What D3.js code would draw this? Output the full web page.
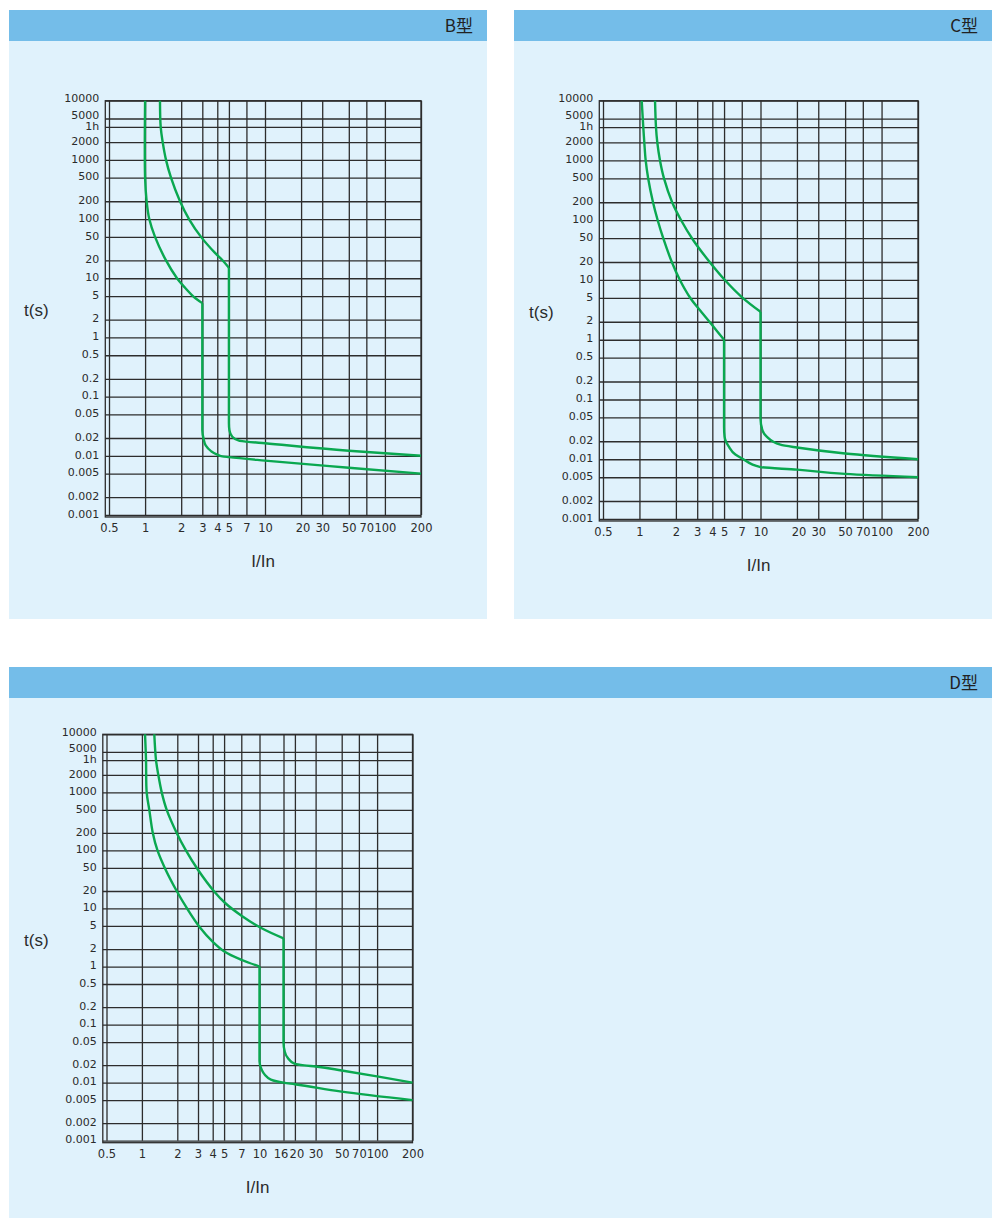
<!DOCTYPE html>
<html>
<head>
<meta charset="utf-8">
<script src="https://cdnjs.cloudflare.com/ajax/libs/d3/7.8.5/d3.min.js"></script>
<style>
body { margin: 0; background: #fff; }
svg text { font-family: "Liberation Sans", Arial, sans-serif; fill: #2b2b2b; }
.tick text { font-family: "DejaVu Sans", sans-serif; font-size: 11px; }
.x-axis .tick text { font-size: 11.5px; }
.tick line { stroke: #2d2d2d; stroke-width: 1.3; }
.title { font-family: "Noto Sans CJK SC", sans-serif; font-size: 17px; fill: #222; }
.axis-name { font-size: 17px; }
</style>
</head>
<body>
<svg id="chart" width="1006" height="1218"></svg>
<script>
// tick values (I/In and seconds)
var xTicks = [0.5, 1, 2, 3, 4, 5, 7, 10, 20, 30, 50, 70, 100, 200];
var xTicksD = [0.5, 1, 2, 3, 4, 5, 7, 10, 16, 20, 30, 50, 70, 100, 200];
var yTicks = [10000, 5000, 3600, 2000, 1000, 500, 200, 100, 50, 20, 10, 5, 2, 1,
              0.5, 0.2, 0.1, 0.05, 0.02, 0.01, 0.005, 0.002, 0.001];
var yLabels = ['10000', '5000', '1h', '2000', '1000', '500', '200', '100', '50', '20', '10', '5', '2', '1',
               '0.5', '0.2', '0.1', '0.05', '0.02', '0.01', '0.005', '0.002', '0.001'];

// curves as [I/In, t(s)] : thermal part, then magnetic part + tail
var bThermalLow = [[1, 10000], [1, 500], [1.03, 200], [1.084, 100], [1.21, 50], [1.494, 20], [1.845, 10],
                   [2.12, 7.15], [2.534, 4.9], [3, 3.8]];
var bMagLow = [[3, 3.8], [3, 0.027], [3.08, 0.019], [3.2, 0.015], [3.55, 0.012], [4, 0.0105],
               [4.4, 0.0098], [5, 0.0095], [10, 0.0083], [50, 0.0063], [200, 0.005]];
var bThermalHigh = [[1.331, 10000], [1.349, 3600], [1.402, 2000], [1.494, 1000], [1.644, 500], [1.954, 200],
                    [2.323, 100], [2.926, 50], [3.83, 26.8], [4.44, 20], [5, 15]];
var bMagHigh = [[5, 15], [5, 0.036], [5.05, 0.027], [5.33, 0.021], [6.07, 0.018], [7, 0.0174],
                [10, 0.0163], [50, 0.0122], [200, 0.01]];

var cThermalLow = [[1.044, 10000], [1.076, 3600], [1.097, 2000], [1.126, 1000], [1.181, 500], [1.294, 200],
                   [1.415, 100], [1.572, 50], [1.851, 20], [2.159, 10], [2.631, 5], [3.164, 3.11],
                   [4.075, 1.667], [5, 1]];
var cMagLow = [[5, 1], [5, 0.035], [5.05, 0.024], [5.46, 0.0164], [6.2, 0.012], [7.1, 0.0102],
               [10, 0.0074], [20, 0.0067], [50, 0.0057], [200, 0.005]];
var cThermalHigh = [[1.345, 10000], [1.37, 3600], [1.404, 2000], [1.478, 1000], [1.595, 500], [1.862, 200],
                    [2.209, 100], [2.775, 46.7], [3.814, 19.8], [5.073, 10], [7.047, 5.13], [10, 2.94]];
var cMagHigh = [[10, 2.94], [10, 0.048], [10.4, 0.03], [11.2, 0.0241], [14.6, 0.0175], [20, 0.0157],
                [50, 0.0125], [200, 0.01]];

var dThermalLow = [[1.063, 10000], [1.084, 3600], [1.098, 1000], [1.156, 500], [1.238, 200], [1.357, 100],
                   [1.566, 50], [1.977, 20], [2.42, 10], [3.08, 4.86], [4.05, 2.61], [5.06, 1.8],
                   [7.1, 1.295], [10, 1]];
var dMagLow = [[10, 1], [10, 0.0233], [10.4, 0.017], [11.1, 0.0137], [12.5, 0.0113], [16, 0.01],
               [20, 0.0094], [50, 0.007], [200, 0.005]];
var dThermalHigh = [[1.275, 10000], [1.318, 3600], [1.379, 2000], [1.474, 1000], [1.625, 500], [1.977, 200],
                    [2.366, 100], [3.006, 46], [4.135, 19.45], [5.13, 12.3], [7.03, 7.51], [10.44, 4.56],
                    [16, 3.06]];
var dMagHigh = [[16, 3.06], [16, 0.05], [16.4, 0.034], [17.3, 0.027], [20, 0.021], [24, 0.0198],
                [30, 0.019], [50, 0.0162], [100, 0.0128], [200, 0.01]];

var panels = [
  {title: 'B型', left: 9, top: 10, width: 478, height: 609,
   x0: 109, x1: 421, y0: 100.7, y1: 515, xt: xTicks,
   thermal: [bThermalLow, bThermalHigh], magnetic: [bMagLow, bMagHigh]},
  {title: 'C型', left: 514, top: 10, width: 478, height: 609,
   x0: 603, x1: 918, y0: 100.7, y1: 519, xt: xTicks,
   thermal: [cThermalLow, cThermalHigh], magnetic: [cMagLow, cMagHigh]},
  {title: 'D型', left: 9, top: 667, width: 983, height: 551,
   x0: 106.5, x1: 412.5, y0: 734.3, y1: 1140.7, xt: xTicksD,
   thermal: [dThermalLow, dThermalHigh], magnetic: [dMagLow, dMagHigh]}
];

var svg = d3.select('#chart');

panels.forEach(function(p) {
  var g = svg.append('g');

  g.append('rect')
      .attr('x', p.left).attr('y', p.top)
      .attr('width', p.width).attr('height', p.height)
      .attr('fill', '#e0f2fc');
  g.append('rect')
      .attr('x', p.left).attr('y', p.top)
      .attr('width', p.width).attr('height', 31)
      .attr('fill', '#74bde9');
  g.append('text')
      .attr('class', 'title')
      .attr('text-anchor', 'end')
      .attr('x', p.left + p.width - 14)
      .attr('y', p.top + 22)
      .text(p.title);

  var x = d3.scaleLog().domain([0.5, 200]).range([p.x0, p.x1]);
  var y = d3.scaleLog().domain([10000, 0.001]).range([p.y0, p.y1]);
  var frameLeft = p.x0 - 3.7;

  // grid + labels
  g.append('g')
      .attr('class', 'x-axis')
      .attr('transform', 'translate(0,' + p.y1 + ')')
      .call(d3.axisBottom(x)
            .tickValues(p.xt)
            .tickFormat(d => String(d))
            .tickSize(-(p.y1 - p.y0))
            .tickPadding(9))
      .call(a => a.select('.domain').remove())
      .call(a => a.selectAll('text')
            .attr('x', d => d === 16 ? -3 : d === 20 ? 1.5 : 0));

  g.append('g')
      .attr('class', 'y-axis')
      .attr('transform', 'translate(' + frameLeft + ',0)')
      .call(d3.axisLeft(y)
            .tickValues(yTicks)
            .tickFormat((d, i) => yLabels[i])
            .tickSize(-(p.x1 - frameLeft))
            .tickPadding(6))
      .call(a => a.select('.domain').remove())
      .call(a => a.selectAll('text')
            .attr('dy', null)
            .attr('y', d => d === 5000 ? -0.5 : d === 10000 ? 1 : 2.2));

  g.append('rect')
      .attr('x', frameLeft).attr('y', p.y0)
      .attr('width', p.x1 - frameLeft).attr('height', p.y1 - p.y0 + 2)
      .attr('fill', 'none')
      .attr('stroke', '#2d2d2d')
      .attr('stroke-width', 1.3);

  g.append('text')
      .attr('class', 'axis-name')
      .attr('x', p.left + 15)
      .attr('y', (p.y0 + p.y1) / 2 + 8)
      .text('t(s)');

  g.append('text')
      .attr('class', 'axis-name')
      .attr('text-anchor', 'middle')
      .attr('x', (frameLeft + p.x1) / 2)
      .attr('y', p.y1 + 52)
      .text('I/In');

  var thermalLine = d3.line()
      .x(d => x(d[0]))
      .y(d => y(d[1]))
      .curve(d3.curveCatmullRom.alpha(0.5));
  var magneticLine = d3.line()
      .x(d => x(d[0]))
      .y(d => y(d[1]))
      .curve(d3.curveMonotoneY);

  p.thermal.forEach(function(c) {
    g.append('path')
        .attr('d', thermalLine(c))
        .attr('fill', 'none')
        .attr('stroke', '#0aa850')
        .attr('stroke-width', 2.4);
  });
  p.magnetic.forEach(function(c) {
    g.append('path')
        .attr('d', magneticLine(c))
        .attr('fill', 'none')
        .attr('stroke', '#0aa850')
        .attr('stroke-width', 2.4);
  });
});
</script>
</body>
</html>
